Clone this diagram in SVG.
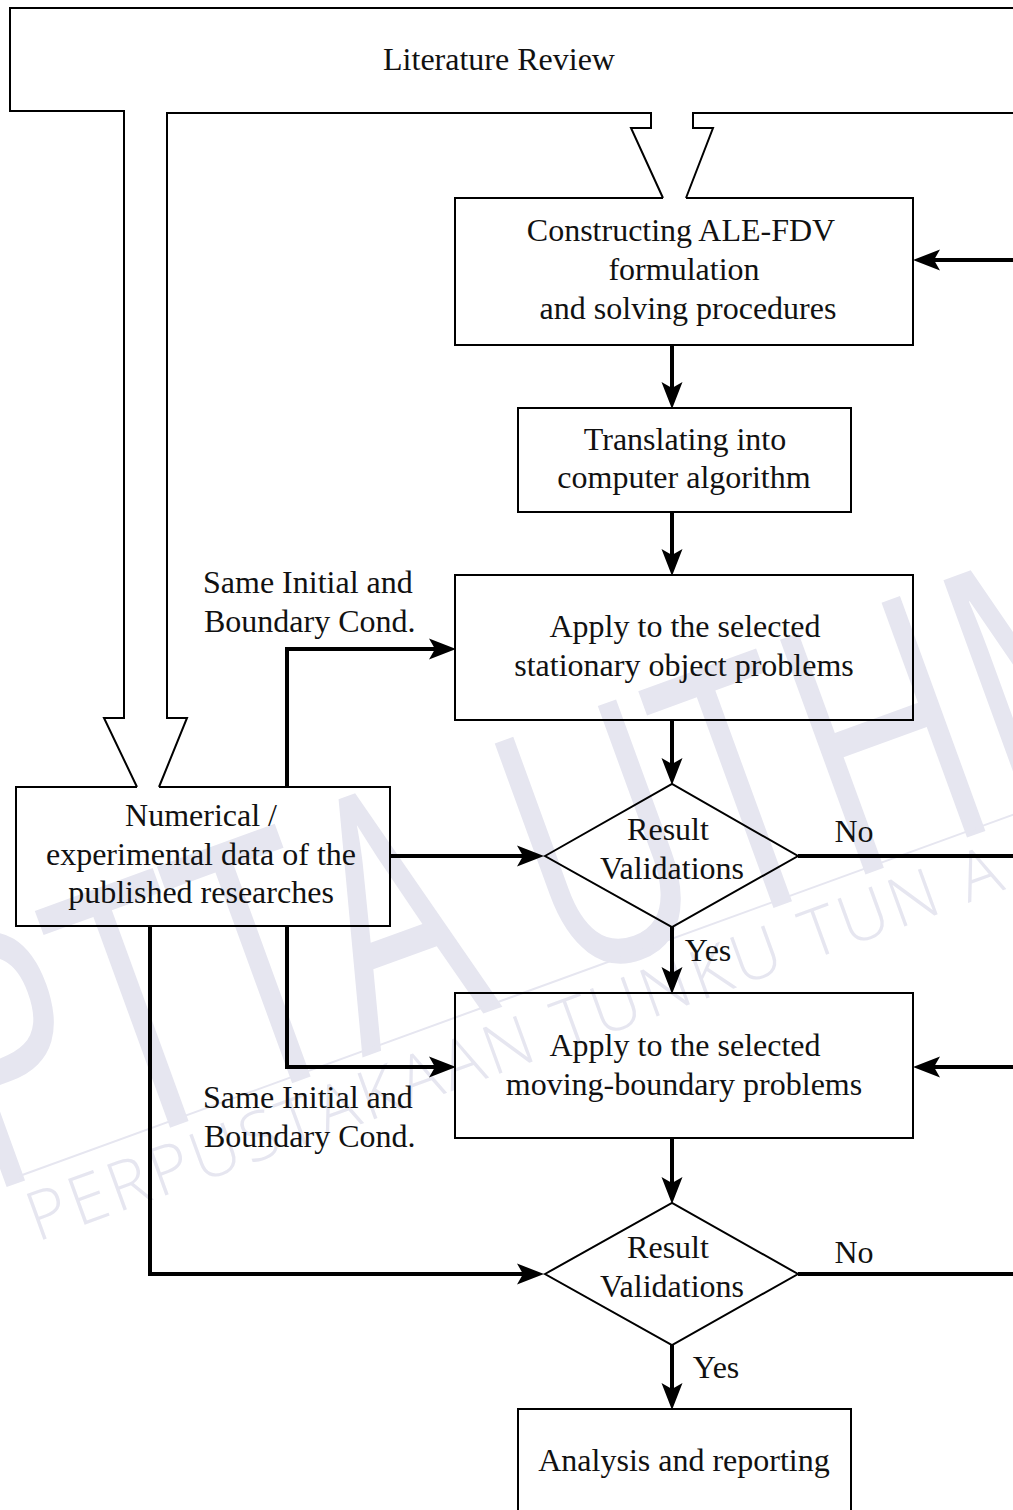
<svg xmlns="http://www.w3.org/2000/svg" width="1013" height="1510" viewBox="0 0 1013 1510">
<style>
.box{fill:none;stroke:#000;stroke-width:2;stroke-linejoin:miter}
.t{font-family:"Liberation Serif","Times New Roman",serif;font-size:32px;fill:#111;text-anchor:middle}
.ts{font-family:"Liberation Serif","Times New Roman",serif;font-size:32px;fill:#111;text-anchor:start}
.c{fill:none;stroke:#000;stroke-width:4}
.wm{font-family:"Open Sans","Noto Sans",sans-serif;fill:#e6e6f0}
</style>
<defs>
<marker id="ah" viewBox="-8 -12 30 24" markerWidth="30" markerHeight="24" refX="0" refY="0" orient="auto" markerUnits="userSpaceOnUse">
<path d="M21,0 L-6,-10.5 L0,0 L-6,10.5 Z" fill="#000"/>
</marker>
</defs>
<rect width="1013" height="1510" fill="#fff"/>
<g id="watermark">
<text class="wm" x="0" y="0" font-size="350" textLength="1300" lengthAdjust="spacingAndGlyphs" transform="translate(-15,1195) rotate(-20)">PTTA UTHM</text>
<line x1="14" y1="1178" x2="1015" y2="814" stroke="#e6e6f0" stroke-width="2"/>
<text class="wm" x="0" y="0" font-size="68" font-weight="300" letter-spacing="4" transform="translate(37,1242) rotate(-20)">PERPUSTAKAAN TUNKU TUN A</text>
</g>
<g id="connectors">
<path class="c" d="M1015,260 H934" marker-end="url(#ah)"/>
<path class="c" d="M672,345 V388" marker-end="url(#ah)"/>
<path class="c" d="M672,512 V555" marker-end="url(#ah)"/>
<path class="c" d="M672,720 V764" marker-end="url(#ah)"/>
<path class="c" d="M672,927 V973" marker-end="url(#ah)"/>
<path class="c" d="M672,1138 V1183" marker-end="url(#ah)"/>
<path class="c" d="M672,1345 V1389" marker-end="url(#ah)"/>
<path class="c" d="M798,856 H1015"/>
<path class="c" d="M798,1274 H1015"/>
<path class="c" d="M1015,1067 H934" marker-end="url(#ah)"/>
<path class="c" d="M390,856 H523" marker-end="url(#ah)"/>
<path class="c" d="M287,787 V649 H435" marker-end="url(#ah)"/>
<path class="c" d="M287,926 V1067 H435" marker-end="url(#ah)"/>
<path class="c" d="M150,926 V1274 H523" marker-end="url(#ah)"/>
</g>
<g id="literature-review">
<path class="box" d="M1015,8 H10 V111 H124 V718 H104 L137,787"/>
<path class="box" d="M159,787 L187,718 H167 V113 H651 V128 H631 L663,198"/>
<path class="box" d="M686,198 L713,128 H693 V113 H1015"/>
<text class="t" x="499" y="70">Literature Review</text>
</g>
<g id="constructing">
<path class="box" d="M663,198 H455 V345 H913 V198 H686"/>
<text class="t" x="681" y="241">Constructing ALE-FDV</text>
<text class="t" x="684" y="280">formulation</text>
<text class="t" x="688" y="319">and solving procedures</text>
</g>
<g id="translating">
<rect class="box" x="518" y="408" width="333" height="104"/>
<text class="t" x="685" y="450">Translating into</text>
<text class="t" x="684" y="488">computer algorithm</text>
</g>
<g id="stationary">
<rect class="box" x="455" y="575" width="458" height="145"/>
<text class="t" x="685" y="637">Apply to the selected</text>
<text class="t" x="684" y="676">stationary object problems</text>
</g>
<g id="numerical">
<path class="box" d="M137,787 H16 V926 H390 V787 H159"/>
<text class="t" x="201" y="826">Numerical /</text>
<text class="t" x="201" y="865">experimental data of the</text>
<text class="t" x="201" y="903">published researches</text>
</g>
<g id="validation1">
<polygon class="box" points="545,856 672,784 798,856 672,927"/>
<text class="t" x="668" y="840">Result</text>
<text class="t" x="672" y="879">Validations</text>
</g>
<g id="moving">
<rect class="box" x="455" y="993" width="458" height="145"/>
<text class="t" x="685" y="1056">Apply to the selected</text>
<text class="t" x="684" y="1095">moving-boundary problems</text>
</g>
<g id="validation2">
<polygon class="box" points="545,1274 672,1203 798,1274 672,1345"/>
<text class="t" x="668" y="1258">Result</text>
<text class="t" x="672" y="1297">Validations</text>
</g>
<g id="analysis">
<rect class="box" x="518" y="1409" width="333" height="110"/>
<text class="t" x="684" y="1471">Analysis and reporting</text>
</g>
<g id="labels">
<text class="ts" x="203" y="593">Same Initial and</text>
<text class="ts" x="204" y="632">Boundary Cond.</text>
<text class="ts" x="203" y="1108">Same Initial and</text>
<text class="ts" x="204" y="1147">Boundary Cond.</text>
<text class="t" x="854" y="842">No</text>
<text class="t" x="854" y="1263">No</text>
<text class="t" x="708" y="961">Yes</text>
<text class="t" x="716" y="1378">Yes</text>
</g>
</svg>
